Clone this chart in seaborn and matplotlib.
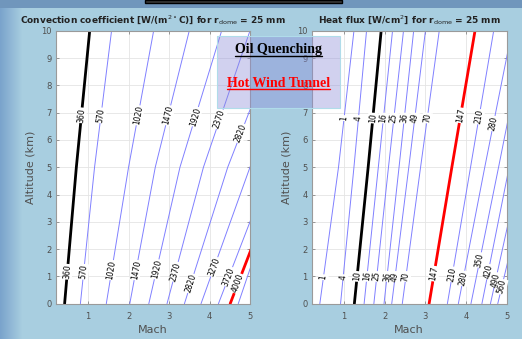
import numpy as np
import pandas as pd
import matplotlib
matplotlib.use("Agg")
import matplotlib.pyplot as plt
import matplotlib.patches as mpatches
from matplotlib.lines import Line2D
import seaborn as sns

# Mach number of each contour line read at 0, 5 and 10 km altitude
alt_knots = [0, 5, 10]

conv_levels = [360, 570, 1020, 1470, 1920, 2370, 2820, 3270, 3720, 4000, 4170]
conv_mach_0 = [0.42, 0.81, 1.45, 2.03, 2.50, 2.95, 3.38, 3.79, 4.22, 4.51, 4.71]
conv_mach_5 = [0.71, 1.16, 2.00, 2.66, 3.27, 3.85, 4.45, 5.00, 5.52, 5.81, 5.85]
conv_mach_10 = [1.04, 1.58, 2.62, 3.50, 4.30, 5.00, 5.76, 6.30, 6.90, 7.10, 7.20]
conv_label_top = [6.9, 6.9, 6.9, 6.9, 6.85, 6.75, 6.24, None, None, None, None]
conv_label_bot = [1.17, 1.17, 1.23, 1.23, 1.26, 1.17, 0.74, 1.35, 0.99, 0.74, None]
conv_black, conv_red = 360, 4000

flux_levels = [1, 4, 10, 16, 25, 36, 49, 70, 147, 210, 280, 350, 420, 490, 560]
flux_mach_0 = [0.40, 0.91, 1.25, 1.49, 1.73, 1.98, 2.17, 2.43, 3.09, 3.54, 3.81, 4.12, 4.39, 4.60, 4.78]
flux_mach_5 = [0.86, 1.24, 1.59, 1.84, 2.09, 2.35, 2.59, 2.88, 3.65, 4.11, 4.46, 4.80, 5.06, 5.34, 5.58]
flux_mach_10 = [1.24, 1.55, 1.91, 2.19, 2.46, 2.71, 3.00, 3.34, 4.22, 4.68, 5.13, 5.47, 5.74, 6.08, 6.38]
flux_label_top = [6.8, 6.8, 6.8, 6.8, 6.8, 6.8, 6.8, 6.8, 6.9, 6.85, 6.6, None, None, None, None]
flux_label_bot = [0.97, 0.97, 1.0, 1.0, 1.0, 1.0, 1.0, 1.0, 1.1, 1.08, 0.93, 1.6, 1.17, 0.87, 0.62]
flux_black, flux_red = 10, 147

sns.set_style("ticks")
plt.rcParams['font.family'] = ['DejaVu Sans']
plt.rcParams['mathtext.fontset'] = 'dejavusans'

W, H = 522, 339
fig = plt.figure(figsize=(W / 100, H / 100), dpi=100)
fig.patch.set_facecolor('#a8cfe0')

# slide background: darker left edge and top band
bg = np.ones((H, W, 3)) * np.array([0.66, 0.81, 0.88])
edge = np.clip(np.arange(W) / 22.0, 0, 1)[None, :, None]
left_col = np.array([0.48, 0.64, 0.80])
bg = bg * edge + left_col * (1 - edge)
bg[:8, :, :] = np.array([0.44, 0.59, 0.74])
bg_ax = fig.add_axes([0, 0, 1, 1], zorder=-10)
bg_ax.imshow(bg, aspect='auto', extent=(0, 1, 0, 1))
bg_ax.axis('off')
fig.add_artist(mpatches.Rectangle((145 / W, 1 - 3 / H), 197 / W, 3 / H, transform=fig.transFigure,
                                  fc='#3a3a3a', ec='black', lw=1.0))


def draw_panel(ax, levels, m0, m5, m10, lab_top, lab_bot, black, red, title):
    rows = []
    for lev, a, b, c in zip(levels, m0, m5, m10):
        for alt, m in zip(alt_knots, (a, b, c)):
            rows.append({'level': lev, 'alt': alt, 'mach': m})
    df = pd.DataFrame(rows)

    ax.set_xlim(0.2, 5)
    ax.set_ylim(0, 10)
    ax.set_facecolor('white')
    ax.grid(True, color='#e4e4e4', lw=0.6)
    ax.set_axisbelow(True)

    for lev, g in df.groupby('level'):
        if lev == black:
            color, lw = 'black', 2.0
        elif lev == red:
            color, lw = '#ff0000', 2.0
        else:
            color, lw = '#8080ff', 0.7
        sns.lineplot(data=g, x='mach', y='alt', sort=False, estimator=None,
                     color=color, lw=lw, ax=ax, legend=False)

    # inline contour labels, rotated along the line
    for lev, a, b, c, lt, lb in zip(levels, m0, m5, m10, lab_top, lab_bot):
        machs = [a, b, c]
        for la in (lt, lb):
            if la is None:
                continue
            mx = np.interp(la, alt_knots, machs)
            seg = 0 if la < 5 else 1
            slope = (machs[seg + 1] - machs[seg]) / 5.0
            p1 = ax.transData.transform((mx, la))
            p2 = ax.transData.transform((mx + slope * 0.5, la + 0.5))
            ang = np.degrees(np.arctan2(p2[1] - p1[1], p2[0] - p1[0]))
            ax.text(mx, la, str(lev), rotation=ang, rotation_mode='anchor',
                    ha='center', va='center', fontsize=5.5, color='black',
                    bbox=dict(fc='white', ec='none', pad=0.4), zorder=5)

    ax.set_xticks([1, 2, 3, 4, 5])
    ax.set_yticks(range(0, 11))
    ax.tick_params(direction='in', top=True, right=True, length=2.5, width=0.6,
                   labelsize=6, labelcolor='#505050', color='#888888')
    ax.tick_params(axis='x', pad=6)
    ax.tick_params(axis='y', pad=3)
    for s in ax.spines.values():
        s.set_color('#9a9a9a')
        s.set_linewidth(0.8)
    ax.set_xlabel('Mach', fontsize=8, color='#505050', labelpad=3)
    ax.set_ylabel('Altitude (km)', fontsize=8, color='#505050', labelpad=4)
    ax.set_title(title, fontsize=6.5, fontweight='bold', color='#222222', pad=5)


ax1 = fig.add_axes([55.7 / W, 1 - 303.7 / H, 194.3 / W, 273 / H])
ax2 = fig.add_axes([311.7 / W, 1 - 303.7 / H, 195 / W, 273 / H])

draw_panel(ax1, conv_levels, conv_mach_0, conv_mach_5, conv_mach_10,
           conv_label_top, conv_label_bot, conv_black, conv_red,
           r'Convection coefficient [W/(m$^{2\circ}$C)] for r$_{\mathrm{dome}}$ = 25 mm')
draw_panel(ax2, flux_levels, flux_mach_0, flux_mach_5, flux_mach_10,
           flux_label_top, flux_label_bot, flux_black, flux_red,
           r'Heat flux [W/cm$^{2}$] for r$_{\mathrm{dome}}$ = 25 mm')

# overlay note box
box = mpatches.Rectangle((217 / W, 1 - 108 / H), 123 / W, 72 / H, transform=fig.transFigure,
                         fc='#8c8cd9', alpha=0.4, ec='none', zorder=20)
fig.add_artist(box)
fig.add_artist(mpatches.Rectangle((217 / W, 1 - 108 / H), 123 / W, 72 / H, transform=fig.transFigure,
                                  fc='none', ec='#b0dcea', lw=0.8, zorder=21))
t1 = fig.text(278.5 / W, 1 - 50 / H, 'Oil Quenching', ha='center', va='center',
              fontsize=10, fontweight='bold', family='Liberation Serif', color='black', zorder=22)
t2 = fig.text(278.5 / W, 1 - 84 / H, 'Hot Wind Tunnel', ha='center', va='center',
              fontsize=10, fontweight='bold', family='Liberation Serif', color='#ff0000', zorder=22)

fig.canvas.draw()
renderer = fig.canvas.get_renderer()
for t, col in ((t1, 'black'), (t2, '#ff0000')):
    bb = t.get_window_extent(renderer)
    y = bb.y0 + 1.0
    fig.add_artist(Line2D([bb.x0 / W, bb.x1 / W], [y / H, y / H], transform=fig.transFigure,
                          color=col, lw=1.0, zorder=22))

fig.savefig('out.png', dpi=100, facecolor=fig.get_facecolor())
